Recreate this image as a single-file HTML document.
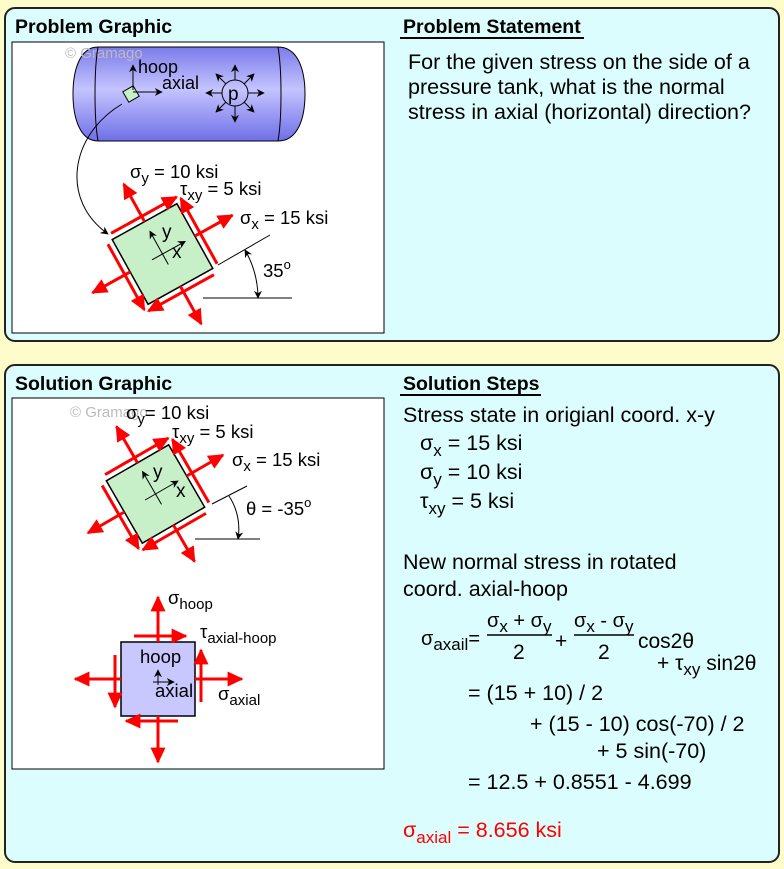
<!DOCTYPE html>
<html><head><meta charset="utf-8"><style>
html,body{margin:0;padding:0;background:#fffccc;}
svg{display:block;font-family:"Liberation Sans",Arial,sans-serif;}
</style></head><body>
<svg width="784" height="869" viewBox="0 0 784 869" xmlns="http://www.w3.org/2000/svg">
<defs>
<marker id="ra" viewBox="0 0 10 10" refX="9" refY="5" markerWidth="16" markerHeight="15" markerUnits="userSpaceOnUse" orient="auto" preserveAspectRatio="none"><path d="M0,0 L10,5 L0,10 z" fill="#f00"/></marker>
<marker id="ka" viewBox="0 0 10 10" refX="9" refY="5" markerWidth="8" markerHeight="8" markerUnits="userSpaceOnUse" orient="auto"><path d="M0,0 L10,5 L0,10 L3,5 z" fill="#000"/></marker>
<marker id="ks" viewBox="0 0 10 10" refX="1" refY="5" markerWidth="8" markerHeight="8" markerUnits="userSpaceOnUse" orient="auto"><path d="M10,0 L0,5 L10,10 L7,5 z" fill="#000"/></marker>
<linearGradient id="tg" x1="0" y1="0" x2="0" y2="1">
<stop offset="0" stop-color="#7b7bea"/><stop offset="0.45" stop-color="#c4c4ff"/><stop offset="1" stop-color="#6f6fe8"/></linearGradient>
</defs>

<rect x="5" y="8" width="774" height="333" rx="10" fill="#dcfdfd" stroke="#222" stroke-width="2"/>
<rect x="5" y="365" width="774" height="497" rx="10" fill="#dcfdfd" stroke="#222" stroke-width="2"/>

<text x="15" y="33" font-size="19.5" font-weight="bold">Problem Graphic</text>
<text x="403" y="33" font-size="19.5" font-weight="bold">Problem Statement</text>
<line x1="400" y1="38" x2="584" y2="38" stroke="#000" stroke-width="2"/>
<g font-size="21.5"><text x="408" y="69">For the given stress on the side of a</text>
<text x="408" y="94">pressure tank, what is the normal</text>
<text x="408" y="119">stress in axial (horizontal) direction?</text></g>

<rect x="12" y="42" width="372" height="291" fill="#fff" stroke="#000" stroke-width="1"/>
<path d="M98,47 L278,47 C298,47 305,70 305,94 C305,118 298,141 278,141 L98,141 C80,141 73,118 73,94 C73,70 80,47 98,47 z" fill="url(#tg)" stroke="#000" stroke-width="1"/>
<path d="M98,47 C94,70 94,118 98,141" fill="none" stroke="#000"/>
<path d="M278,47 C282,70 282,118 278,141" fill="none" stroke="#000"/>
<text x="65" y="58" font-size="15" fill="#bbb">© Gramago</text>
<rect x="125" y="88" width="12" height="12" fill="#c8f0c8" stroke="#000" transform="rotate(-30 131 94)"/>
<line x1="133" y1="90" x2="133" y2="65" stroke="#000" marker-end="url(#ka)"/>
<line x1="133" y1="92" x2="162" y2="92" stroke="#000" marker-end="url(#ka)"/>
<text x="138" y="73" font-size="18">hoop</text>
<text x="162" y="89" font-size="18">axial</text>
<circle cx="235" cy="93" r="13" fill="none" stroke="#000"/>
<text x="228" y="100" font-size="19">p</text>
<g stroke="#000" marker-end="url(#ka)">
<line x1="235" y1="80" x2="235" y2="65"/><line x1="235" y1="106" x2="235" y2="122"/>
<line x1="222" y1="93" x2="206" y2="93"/><line x1="248" y1="93" x2="264" y2="93"/>
<line x1="244" y1="84" x2="254" y2="74"/><line x1="226" y1="84" x2="216" y2="74"/>
<line x1="244" y1="102" x2="254" y2="112"/><line x1="226" y1="102" x2="216" y2="112"/></g>
<path d="M122,104 C70,135 60,200 108,234" fill="none" stroke="#000" marker-end="url(#ka)"/>

<g transform="translate(162.5,254) rotate(-29)">
<rect x="-37" y="-37" width="74" height="74" fill="#c8f0c8" stroke="#000" stroke-width="1.5"/>
<g stroke="#f00" stroke-width="3" marker-end="url(#ra)">
<line x1="37" y1="0" x2="80" y2="0"/><line x1="-37" y1="0" x2="-80" y2="0"/>
<line x1="0" y1="-37" x2="0" y2="-80"/><line x1="0" y1="37" x2="0" y2="80"/>
<line x1="-35" y1="-43" x2="40" y2="-43"/><line x1="35" y1="43" x2="-40" y2="43"/>
<line x1="43" y1="35" x2="43" y2="-40"/><line x1="-43" y1="-35" x2="-43" y2="40"/></g>
<g stroke="#000"><line x1="-12" y1="0" x2="26" y2="0" marker-end="url(#ka)"/><line x1="0" y1="12" x2="0" y2="-26" marker-end="url(#ka)"/></g>
</g>
<text x="172" y="258" font-size="19">x</text>
<text x="162" y="238" font-size="19">y</text>
<text x="130" y="178" font-size="18.5">σ<tspan font-size="15" dy="5">y</tspan><tspan dy="-5"> = 10 ksi</tspan></text>
<text x="180" y="195" font-size="18.5">τ<tspan font-size="15" dy="5">xy</tspan><tspan dy="-5"> = 5 ksi</tspan></text>
<text x="240" y="224" font-size="18.5">σ<tspan font-size="15" dy="5">x</tspan><tspan dy="-5"> = 15 ksi</tspan></text>
<line x1="218" y1="265" x2="270" y2="235" stroke="#000"/>
<line x1="203" y1="298" x2="292" y2="298" stroke="#000"/>
<path d="M245,250 A97,97 0 0 1 258,298" fill="none" stroke="#000" marker-start="url(#ks)" marker-end="url(#ka)"/>
<text x="263" y="277" font-size="18.5">35<tspan font-size="13" dy="-8">o</tspan></text>

<text x="15" y="390" font-size="19.5" font-weight="bold">Solution Graphic</text>
<rect x="12" y="398" width="372" height="371" fill="#fff" stroke="#000" stroke-width="1"/>
<text x="70" y="417" font-size="15" fill="#bbb">© Gramago</text>
<g transform="translate(155.5,494) rotate(-30)">
<rect x="-36" y="-36" width="72" height="72" fill="#c8f0c8" stroke="#000" stroke-width="1.5"/>
<g stroke="#f00" stroke-width="3" marker-end="url(#ra)">
<line x1="36" y1="0" x2="78" y2="0"/><line x1="-36" y1="0" x2="-78" y2="0"/>
<line x1="0" y1="-36" x2="0" y2="-78"/><line x1="0" y1="36" x2="0" y2="78"/>
<line x1="-34" y1="-42" x2="39" y2="-42"/><line x1="34" y1="42" x2="-39" y2="42"/>
<line x1="42" y1="34" x2="42" y2="-39"/><line x1="-42" y1="-34" x2="-42" y2="39"/></g>
<g stroke="#000"><line x1="-12" y1="0" x2="26" y2="0" marker-end="url(#ka)"/><line x1="0" y1="12" x2="0" y2="-26" marker-end="url(#ka)"/></g>
</g>
<text x="176" y="497" font-size="19">x</text>
<text x="153" y="478" font-size="19">y</text>
<text x="126" y="419" font-size="18.5">σ<tspan font-size="15" dy="5">y</tspan><tspan dy="-5">= 10 ksi</tspan></text>
<text x="172" y="438" font-size="18.5">τ<tspan font-size="15" dy="5">xy</tspan><tspan dy="-5"> = 5 ksi</tspan></text>
<text x="232" y="466" font-size="18.5">σ<tspan font-size="15" dy="5">x</tspan><tspan dy="-5"> = 15 ksi</tspan></text>
<line x1="212" y1="504" x2="247" y2="486" stroke="#000"/>
<line x1="195" y1="539" x2="260" y2="539" stroke="#000"/>
<path d="M229,496 A60,60 0 0 1 238,539" fill="none" stroke="#000" marker-end="url(#ka)"/>
<text x="246" y="515" font-size="18.5">θ = -35<tspan font-size="13" dy="-8">o</tspan></text>

<rect x="121" y="642" width="74" height="74" fill="#c8c8ff" stroke="#000" stroke-width="1.5"/>
<g stroke="#f00" stroke-width="3" marker-end="url(#ra)">
<line x1="158" y1="642" x2="158" y2="597"/><line x1="158" y1="716" x2="158" y2="762"/>
<line x1="121" y1="679" x2="75" y2="679"/><line x1="195" y1="679" x2="242" y2="679"/>
<line x1="134" y1="636" x2="186" y2="636"/><line x1="178" y1="721" x2="126" y2="721"/>
<line x1="201" y1="702" x2="201" y2="650"/><line x1="115" y1="655" x2="115" y2="707"/></g>
<g stroke="#000"><line x1="158" y1="685" x2="158" y2="670" marker-end="url(#ka)"/><line x1="153" y1="682" x2="174" y2="682" marker-end="url(#ka)"/></g>
<text x="140" y="663" font-size="18.5">hoop</text>
<text x="155" y="697" font-size="18.5">axial</text>
<text x="168" y="604" font-size="18.5">σ<tspan font-size="15" dy="5">hoop</tspan></text>
<text x="200" y="638" font-size="18.5">τ<tspan font-size="15" dy="5">axial-hoop</tspan></text>
<text x="218" y="700" font-size="18.5">σ<tspan font-size="15" dy="5">axial</tspan></text>

<text x="403" y="390" font-size="19.5" font-weight="bold">Solution Steps</text>
<line x1="400" y1="395" x2="541" y2="395" stroke="#000" stroke-width="2"/>
<g font-size="21.5">
<text x="403" y="422">Stress state in origianl coord. x-y</text>
<text x="420" y="450">σ<tspan font-size="17" dy="6">x</tspan><tspan dy="-6"> = 15 ksi</tspan></text>
<text x="420" y="479">σ<tspan font-size="17" dy="6">y</tspan><tspan dy="-6"> = 10 ksi</tspan></text>
<text x="420" y="508">τ<tspan font-size="17" dy="6">xy</tspan><tspan dy="-6"> = 5 ksi</tspan></text>
<text x="403" y="569">New normal stress in rotated</text>
<text x="403" y="596">coord. axial-hoop</text>
<text x="421" y="645" font-size="20">σ<tspan font-size="17" dy="5">axail</tspan><tspan dy="-5">=</tspan></text>
<text x="487" y="627" font-size="20">σ<tspan font-size="17" dy="5">x</tspan><tspan dy="-5"> + σ</tspan><tspan font-size="17" dy="5">y</tspan></text>
<line x1="487" y1="635" x2="552" y2="635" stroke="#000" stroke-width="1.5"/>
<text x="513" y="659" font-size="21">2</text>
<text x="555" y="648" font-size="21">+</text>
<text x="574" y="627" font-size="20">σ<tspan font-size="17" dy="5">x</tspan><tspan dy="-5"> - σ</tspan><tspan font-size="17" dy="5">y</tspan></text>
<line x1="574" y1="635" x2="634" y2="635" stroke="#000" stroke-width="1.5"/>
<text x="598" y="659" font-size="21">2</text>
<text x="638" y="648" font-size="21">cos2θ</text>
<text x="657" y="670" font-size="21">+ τ<tspan font-size="17" dy="5">xy</tspan><tspan dy="-5"> sin2θ</tspan></text>
<text x="468" y="700" font-size="21.5">= (15 + 10) / 2</text>
<text x="530" y="731" font-size="21.5">+ (15 - 10) cos(-70) / 2</text>
<text x="597" y="758" font-size="21.5">+ 5 sin(-70)</text>
<text x="468" y="789" font-size="21.5">= 12.5 + 0.8551 - 4.699</text>
<text x="403" y="837" fill="#f00">σ<tspan font-size="17" dy="6">axial</tspan><tspan dy="-6"> = 8.656 ksi</tspan></text>
</g>
</svg>
</body></html>
